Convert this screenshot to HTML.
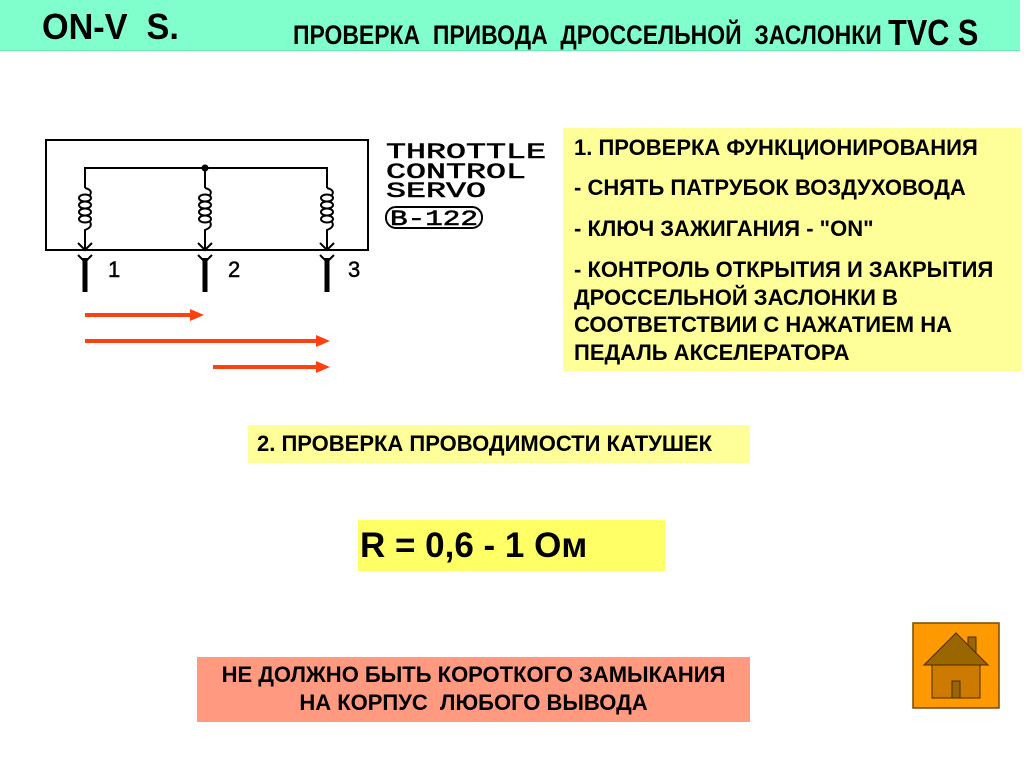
<!DOCTYPE html>
<html><head><meta charset="utf-8"><style>
body{margin:0;width:1024px;height:768px;background:#fff;position:relative;overflow:hidden;font-family:"Liberation Sans",sans-serif;}
.a{position:absolute;white-space:nowrap;font-weight:bold;color:#000;}
.y{position:absolute;}
</style></head><body>
<div class="y" style="left:0;top:0;width:1020px;height:50px;background:#80FFCC;border-bottom:1px solid #6de8b8"></div>
<div class="a" style="left:42px;top:6px;font-size:36px;transform:scaleX(0.95);transform-origin:left">ON-V&nbsp; S.</div>
<div class="a" style="left:293px;top:11px;font-size:27px;transform:scaleX(0.85);transform-origin:left">ПРОВЕРКА&nbsp; ПРИВОДА&nbsp; ДРОССЕЛЬНОЙ&nbsp; ЗАСЛОНКИ <span style="font-size:36px;position:relative;top:1px">TVC S</span></div>

<svg class="y" style="left:0;top:0" width="560" height="400">
<g stroke="#000" fill="none" stroke-width="2">
<rect x="46" y="140" width="322" height="110"/>
<polyline points="85,188 85,168 327,168 327,188"/>
<line x1="205" y1="168" x2="205" y2="188"/>
<g id="c">
<path d="M85,188 q8,2 5,7"/>
<ellipse cx="85" cy="198" rx="6" ry="3.5"/>
<ellipse cx="85" cy="205" rx="6" ry="3.5"/>
<ellipse cx="85" cy="212" rx="6" ry="3.5"/>
<ellipse cx="85" cy="219" rx="6" ry="3.5"/>
<path d="M90,222 q3,5 -5,8 L85,250"/>
</g>
<use href="#c" transform="translate(120,0)"/>
<use href="#c" transform="translate(242,0)"/>
<g stroke-width="2">
<path d="M78,243 L85,250 L92,243 M78,255 L85,262 L92,255"/>
<path d="M198,243 L205,250 L212,243 M198,255 L205,262 L212,255"/>
<path d="M320,243 L327,250 L334,243 M320,255 L327,262 L334,255"/>
</g>
<g stroke-width="5">
<line x1="85" y1="258" x2="85" y2="292"/><line x1="205" y1="258" x2="205" y2="292"/><line x1="327" y1="258" x2="327" y2="292"/>
</g>
<rect x="386" y="207" width="96" height="21" rx="10" stroke-width="2"/>
</g>
<circle cx="205" cy="168" r="3.5" fill="#000"/>
<g font-family="Liberation Sans,sans-serif" font-size="22" fill="#000" stroke="#000" stroke-width="0.5">
<text x="108" y="277">1</text><text x="228" y="277">2</text><text x="348" y="277">3</text>
</g>
<g font-family="Liberation Mono,monospace" font-size="22" fill="#000" stroke="#000" stroke-width="0.6">
<text x="386" y="158" textLength="160" lengthAdjust="spacingAndGlyphs">THROTTLE</text>
<text x="386" y="178" textLength="140" lengthAdjust="spacingAndGlyphs">CONTROL</text>
<text x="386" y="197" textLength="100" lengthAdjust="spacingAndGlyphs">SERVO</text>
<text x="390" y="225" textLength="88" lengthAdjust="spacingAndGlyphs">B-122</text>
</g>
<g fill="#FF4010" stroke="#FF4010" stroke-width="4">
<line x1="85" y1="315" x2="192" y2="315"/><polygon points="190,309 204,315 190,321" stroke="none"/>
<line x1="85" y1="341" x2="318" y2="341"/><polygon points="316,335 330,341 316,347" stroke="none"/>
<line x1="213" y1="367" x2="318" y2="367"/><polygon points="316,361 330,367 316,373" stroke="none"/>
</g>
</svg>

<div class="y" style="left:563px;top:128px;width:459px;height:243px;background:#FFFF99"></div>
<div class="a" style="left:574px;top:135px;font-size:22px">1. ПРОВЕРКА ФУНКЦИОНИРОВАНИЯ</div>
<div class="a" style="left:574px;top:175px;font-size:22px">- СНЯТЬ ПАТРУБОК ВОЗДУХОВОДА</div>
<div class="a" style="left:574px;top:216px;font-size:22px">- КЛЮЧ ЗАЖИГАНИЯ - "ON"</div>
<div class="a" style="left:574px;top:256px;font-size:22px;line-height:27.5px">- КОНТРОЛЬ ОТКРЫТИЯ И ЗАКРЫТИЯ<br>ДРОССЕЛЬНОЙ ЗАСЛОНКИ В<br>СООТВЕТСТВИИ С НАЖАТИЕМ НА<br>ПЕДАЛЬ АКСЕЛЕРАТОРА</div>

<div class="y" style="left:248px;top:425px;width:502px;height:38px;background:#FFFF99"></div>
<div class="a" style="left:257px;top:431px;font-size:22px">2. ПРОВЕРКА ПРОВОДИМОСТИ КАТУШЕК</div>

<div class="y" style="left:358px;top:520px;width:307px;height:51px;background:#FFFF66"></div>
<div class="a" style="left:360px;top:526px;font-size:35px">R = 0,6 - 1 Ом</div>

<div class="y" style="left:197px;top:657px;width:553px;height:65px;background:#FF9980"></div>
<div class="a" style="left:197px;top:661px;width:553px;text-align:center;font-size:22px;line-height:28px">НЕ ДОЛЖНО БЫТЬ КОРОТКОГО ЗАМЫКАНИЯ<br>НА КОРПУС&nbsp; ЛЮБОГО ВЫВОДА</div>

<svg class="y" style="left:900px;top:610px" width="110" height="110">
<rect x="13" y="13" width="86" height="85" fill="#FF9900" stroke="#7a4a00" stroke-width="1.5"/>
<rect x="68" y="27" width="8" height="16" fill="#996600" stroke="#4a2a00"/>
<polygon points="24,55 56,23 88,55" fill="#996600" stroke="#4a2a00"/>
<rect x="32" y="55" width="48" height="33" fill="#CC7A00" stroke="#4a2a00"/>
<rect x="52" y="71" width="8" height="17" fill="#996600" stroke="#4a2a00"/>
</svg>
</body></html>
